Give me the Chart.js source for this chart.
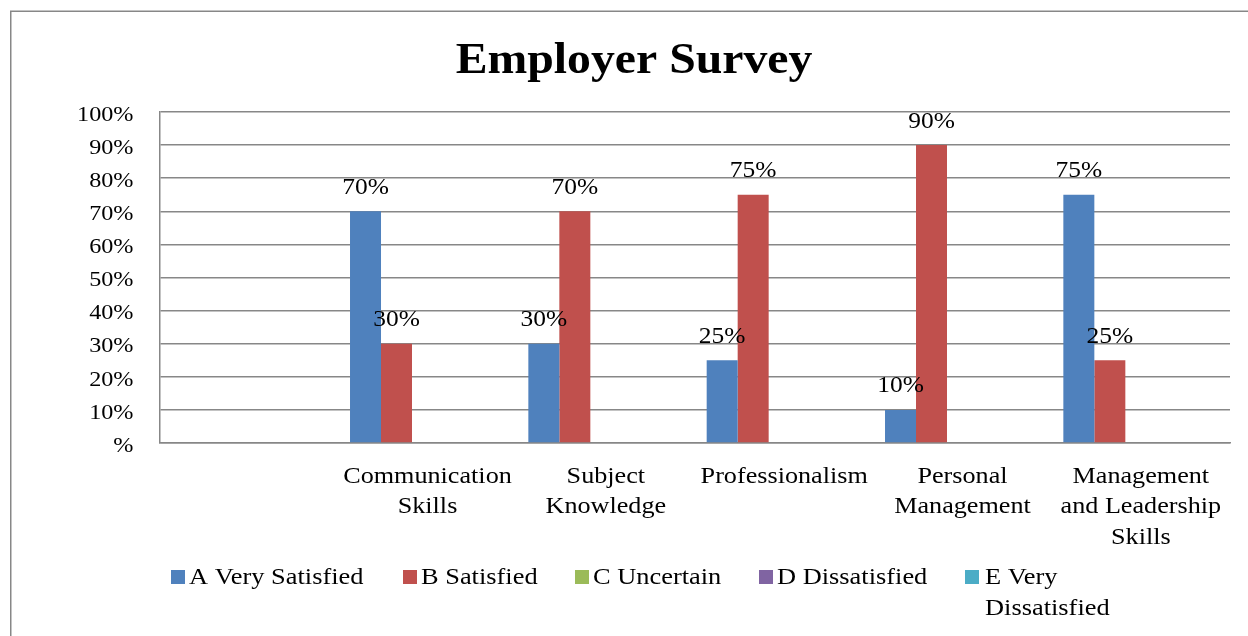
<!DOCTYPE html>
<html>
<head>
<meta charset="utf-8">
<script src="https://cdn.jsdelivr.net/npm/chart.js@4.4.1/dist/chart.umd.min.js"></script>
<style>
html,body{margin:0;padding:0;background:#fff;}
#wrap{width:1248px;height:636px;position:relative;}
</style>
</head>
<body>
<div id="wrap"><canvas id="c" width="1248" height="636"></canvas></div>
<script>
const title = 'Employer Survey';
const categories = ['', ['Communication','Skills'], ['Subject','Knowledge'], 'Professionalism', ['Personal','Management'], ['Management','and Leadership','Skills']];
const seriesNames = ['A Very Satisfied', 'B Satisfied', 'C Uncertain', 'D Dissatisfied', ['E Very', 'Dissatisfied']];
const verySatisfied = [null, 70, 30, 25, 10, 75];
const satisfied = [null, 30, 70, 75, 90, 25];
const uncertain = [null, 0, 0, 0, 0, 0];
const dissatisfied = [null, 0, 0, 0, 0, 0];
const veryDissatisfied = [null, 0, 0, 0, 0, 0];
const yTicks = [0, 10, 20, 30, 40, 50, 60, 70, 80, 90, 100];
const colors = ['#4F81BD', '#C0504D', '#9BBB59', '#8064A2', '#4BACC6'];

const FONT = '"Liberation Serif", "Times New Roman", serif';
const seriesData = [verySatisfied, satisfied, uncertain, dissatisfied, veryDissatisfied];

function txt(ctx, s, x, y, align, font, sx) {
  ctx.save();
  ctx.translate(x, y);
  ctx.scale(sx, 1);
  ctx.font = font;
  ctx.textAlign = align;
  ctx.textBaseline = 'alphabetic';
  ctx.fillStyle = '#000';
  ctx.fillText(s, 0, 0);
  ctx.restore();
}

const decor = {
  id: 'decor',
  beforeDraw(chart) {
    const ctx = chart.ctx;
    ctx.save();
    ctx.fillStyle = '#fff';
    ctx.fillRect(0, 0, chart.width, chart.height);
    ctx.strokeStyle = '#878787';
    ctx.lineWidth = 1.5;
    ctx.beginPath();
    ctx.moveTo(10.75, 636);
    ctx.lineTo(10.75, 11.25);
    ctx.lineTo(1248, 11.25);
    ctx.stroke();
    ctx.restore();
    txt(ctx, title, 634, 73, 'center', 'bold 44px ' + FONT, 1.085);
  },
  afterDatasetsDraw(chart) {
    const ctx = chart.ctx;
    // y tick labels
    const ys = chart.scales.y;
    ys.ticks.forEach(t => {
      const y = ys.getPixelForValue(t.value);
      txt(ctx, t.value === 0 ? '%' : t.value + '%', 133.5, y + 8.7, 'right', '22px ' + FONT, 1.1);
    });
    // x category labels
    const xs = chart.scales.x;
    categories.forEach((c, i) => {
      const x = xs.getPixelForValue(i);
      const lines = Array.isArray(c) ? c : [c];
      lines.forEach((ln, k) => txt(ctx, ln, x, 482.5 + k * 30.5, 'center', '24px ' + FONT, 1.09));
    });
    // data labels
    chart.data.datasets.forEach((ds, i) => {
      const meta = chart.getDatasetMeta(i);
      meta.data.forEach((bar, j) => {
        const v = ds.data[j];
        if (v && v > 0) {
          txt(ctx, v + '%', bar.x, bar.y - 17.5, 'center', '24px ' + FONT, 1.06);
        }
      });
    });
    // legend
    const items = [
      {sq: 171, tx: 189},
      {sq: 403, tx: 421},
      {sq: 575, tx: 593},
      {sq: 759, tx: 777},
      {sq: 965, tx: 985}
    ];
    items.forEach((it, i) => {
      ctx.save();
      ctx.fillStyle = colors[i];
      ctx.fillRect(it.sq, 570, 14, 14);
      ctx.restore();
      const name = seriesNames[i];
      const lines = Array.isArray(name) ? name : [name];
      lines.forEach((ln, k) => txt(ctx, ln, it.tx, 584.3 + k * 31, 'left', '24px ' + FONT, 1.1));
    });
  }
};

new Chart(document.getElementById('c'), {
  type: 'bar',
  data: {
    labels: categories,
    datasets: seriesNames.map((n, i) => ({
      label: Array.isArray(n) ? n.join(' ') : n,
      data: seriesData[i],
      backgroundColor: colors[i],
      borderWidth: 0,
      categoryPercentage: 0.869,
      barPercentage: 1.0
    }))
  },
  options: {
    responsive: false,
    animation: false,
    devicePixelRatio: 1,
    layout: { padding: { top: 112, right: 18, left: 0, bottom: 0 } },
    plugins: {
      legend: { display: false },
      title: { display: false },
      tooltip: { enabled: false }
    },
    scales: {
      x: {
        grid: { display: false, drawTicks: false },
        border: { display: true, color: '#878787', width: 1.5 },
        ticks: { display: false },
        afterFit(scale) { scale.height = 193; }
      },
      y: {
        min: 0,
        max: 100,
        afterBuildTicks(scale) { scale.ticks = yTicks.map(v => ({ value: v })); },
        grid: { color: '#878787', lineWidth: 1.5, drawTicks: false },
        border: { display: true, color: '#878787', width: 1.5 },
        ticks: { display: false },
        afterFit(scale) { scale.width = 160; }
      }
    }
  },
  plugins: [decor]
});
</script>
</body>
</html>
